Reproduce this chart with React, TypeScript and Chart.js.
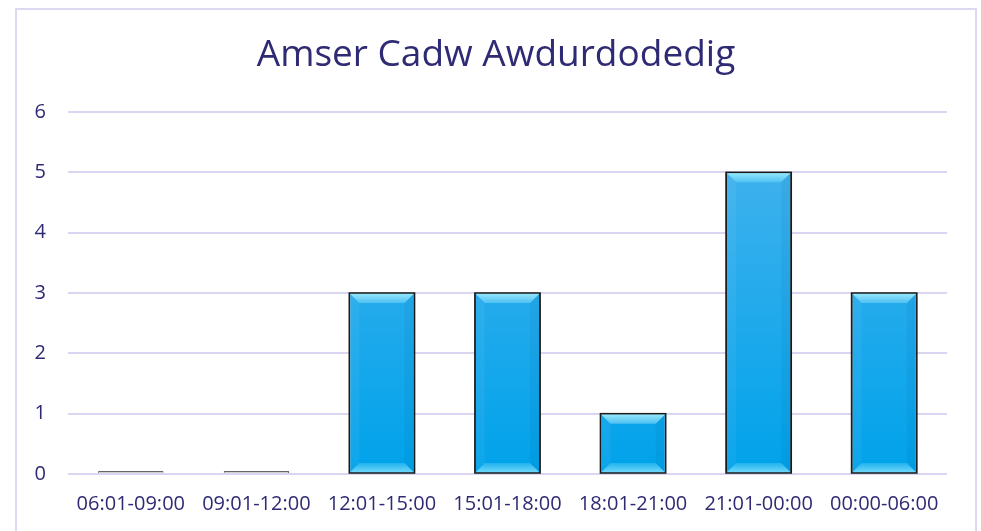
import React, { useEffect, useRef } from "react";
import { Chart, registerables } from "chart.js";

Chart.register(...registerables);

const categories = ["06:01-09:00", "09:01-12:00", "12:01-15:00", "15:01-18:00", "18:01-21:00", "21:01-00:00", "00:00-06:00"];
const counts = [0, 0, 3, 3, 1, 5, 3];
const yTicks = [0, 1, 2, 3, 4, 5, 6];
const titleText = "Amser Cadw Awdurdodedig";

const TEXT = "#2e2a74";
const GRID = "#dad6f2";

const titlePlugin = {
  id: "centredTitle",
  afterDraw(chart: any) {
    const ctx = chart.ctx;
    ctx.save();
    ctx.fillStyle = TEXT;
    ctx.font = "37px 'Open Sans'";
    ctx.textAlign = "center";
    ctx.textBaseline = "middle";
    ctx.fillText(titleText, 496, 55);
    ctx.restore();
  },
};

const bevelPlugin = {
  id: "bevel",
  afterDatasetsDraw(chart: any) {
    const ctx = chart.ctx;
    const meta = chart.getDatasetMeta(0);
    meta.data.forEach((el: any, i: number) => {
      if (counts[i] === 0) return;
      const { x, y, base, width } = el.getProps(["x", "y", "base", "width"], true);
      const L = x - width / 2;
      const R = x + width / 2;
      const T = Math.min(y, base);
      const B = Math.max(y, base);
      const b = Math.min(10, (B - T) / 2, width / 2);
      ctx.save();
      const gt = ctx.createLinearGradient(0, T, 0, T + b);
      gt.addColorStop(0, "#9aeafd");
      gt.addColorStop(1, "#4fc0f2");
      ctx.fillStyle = gt;
      ctx.beginPath();
      ctx.moveTo(L, T);
      ctx.lineTo(R, T);
      ctx.lineTo(R - b, T + b);
      ctx.lineTo(L + b, T + b);
      ctx.closePath();
      ctx.fill();
      const gb = ctx.createLinearGradient(0, B - b, 0, B);
      gb.addColorStop(0, "#22b2ef");
      gb.addColorStop(1, "#72daf9");
      ctx.fillStyle = gb;
      ctx.beginPath();
      ctx.moveTo(L, B);
      ctx.lineTo(R, B);
      ctx.lineTo(R - b, B - b);
      ctx.lineTo(L + b, B - b);
      ctx.closePath();
      ctx.fill();
      ctx.fillStyle = "rgba(255,255,255,0.05)";
      ctx.beginPath();
      ctx.moveTo(L, T);
      ctx.lineTo(L + b, T + b);
      ctx.lineTo(L + b, B - b);
      ctx.lineTo(L, B);
      ctx.closePath();
      ctx.fill();
      ctx.fillStyle = "rgba(0,40,80,0.05)";
      ctx.beginPath();
      ctx.moveTo(R, T);
      ctx.lineTo(R - b, T + b);
      ctx.lineTo(R - b, B - b);
      ctx.lineTo(R, B);
      ctx.closePath();
      ctx.fill();
      ctx.strokeStyle = "#1a1a1a";
      ctx.lineWidth = 1.5;
      ctx.strokeRect(L, T, width, B - T);
      ctx.restore();
    });
  },
};

export default function App() {
  const ref = useRef<HTMLCanvasElement | null>(null);
  useEffect(() => {
    document.body.style.margin = "0";
    const canvas = ref.current!;
    const chart = new Chart(canvas, {
      type: "bar",
      data: {
        labels: categories,
        datasets: [
          {
            data: counts,
            minBarLength: 3,
            borderWidth: 1,
            borderColor: counts.map((v) => (v === 0 ? "#666" : "#1a1a1a")),
            backgroundColor: (c: any) => {
              const v = counts[c.dataIndex];
              if (v === 0) return "#cfcfcf";
              const area = c.chart.chartArea;
              if (!area) return "#19a8ec";
              const g = c.chart.ctx.createLinearGradient(0, area.top, 0, area.bottom);
              g.addColorStop(0, "#4ab4ee");
              g.addColorStop(1, "#00a2ea");
              return g;
            },
            barPercentage: 0.52,
            categoryPercentage: 1,
          },
        ],
      },
      options: {
        animation: false,
        responsive: false,
        layout: { padding: { left: 22, right: 34, top: 112, bottom: 0 } },
        plugins: {
          legend: { display: false },
          tooltip: { enabled: false },
          title: { display: false },
        },
        scales: {
          x: {
            grid: { display: false },
            border: { display: false },
            ticks: {
              color: TEXT,
              font: { family: "Open Sans", size: 20 },
              padding: 10,
              maxRotation: 0,
              autoSkip: false,
            },
            afterFit: (s: any) => {
              s.height = 57;
            },
          },
          y: {
            min: 0,
            max: 6,
            afterBuildTicks: (s: any) => {
              s.ticks = yTicks.map((v) => ({ value: v }));
            },
            grid: { color: GRID, lineWidth: 2, drawTicks: false },
            border: { display: false },
            ticks: {
              color: TEXT,
              font: { family: "Open Sans", size: 20 },
              padding: 22,
            },
            afterFit: (s: any) => {
              s.width = 46;
            },
          },
        },
      },
      plugins: [bevelPlugin, titlePlugin],
    } as any);
    return () => chart.destroy();
  }, []);
  return (
    <div style={{ position: "relative", width: 981, height: 531, overflow: "hidden", background: "#fff" }}>
      <div
        style={{
          position: "absolute",
          left: 15,
          top: 8,
          width: 962,
          height: 560,
          border: "2px solid #dcd9f2",
          boxSizing: "border-box",
        }}
      />
      <canvas ref={ref} width={981} height={531} style={{ position: "absolute", left: 0, top: 0 }} />
    </div>
  );
}
